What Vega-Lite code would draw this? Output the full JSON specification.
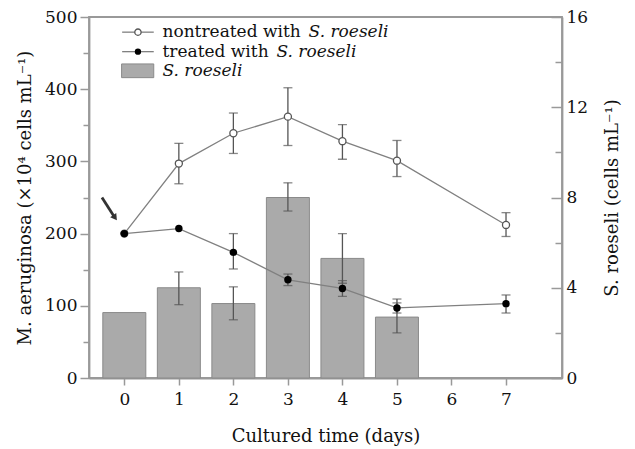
{
  "$schema": "https://vega.github.io/schema/vega-lite/v6.json",
  "width": 473,
  "height": 361,
  "autosize": "none",
  "padding": {"left": 89, "top": 17, "right": 73, "bottom": 71},
  "config": {
    "view": {"stroke": "#999", "strokeWidth": 1.8},
    "axis": {
      "grid": false,
      "domainColor": "#999",
      "domainWidth": 1.8,
      "tickColor": "#999",
      "tickWidth": 1.5,
      "labelFont": "DejaVu Serif",
      "labelFontSize": 17,
      "labelColor": "#111",
      "titleFont": "DejaVu Serif",
      "titleFontSize": 18,
      "titleFontWeight": "normal",
      "titleColor": "#111"
    }
  },
  "datasets": {
    "days": [
      {"day": 0, "non": 200, "non_lo": null, "non_hi": null, "tr": 200, "tr_lo": null, "tr_hi": null, "sr": 2.9, "sr_lo": null, "sr_hi": null},
      {"day": 1, "non": 297, "non_lo": 269, "non_hi": 325, "tr": 207, "tr_lo": null, "tr_hi": null, "sr": 4.0, "sr_lo": 3.25, "sr_hi": 4.7},
      {"day": 2, "non": 339, "non_lo": 311, "non_hi": 367, "tr": 174, "tr_lo": 151, "tr_hi": 200, "sr": 3.3, "sr_lo": 2.58, "sr_hi": 4.04},
      {"day": 3, "non": 362, "non_lo": 322, "non_hi": 402, "tr": 136, "tr_lo": 128, "tr_hi": 144, "sr": 8.0, "sr_lo": 7.4, "sr_hi": 8.65},
      {"day": 4, "non": 328, "non_lo": 303, "non_hi": 351, "tr": 124, "tr_lo": 113, "tr_hi": 135, "sr": 5.3, "sr_lo": 4.2, "sr_hi": 6.4},
      {"day": 5, "non": 301, "non_lo": 279, "non_hi": 329, "tr": 97, "tr_lo": 90, "tr_hi": 104, "sr": 2.7, "sr_lo": 2.0, "sr_hi": 3.5},
      {"day": 7, "non": 212, "non_lo": 196, "non_hi": 229, "tr": 103, "tr_lo": 90, "tr_hi": 115, "sr": null, "sr_lo": null, "sr_hi": null}
    ]
  },
  "data": {"name": "days"},
  "encoding": {
    "x": {
      "field": "day", "type": "quantitative",
      "scale": {"domain": [-0.556, 7.935], "nice": false, "zero": false},
      "axis": {"values": [0, 1, 2, 3, 4, 5, 6, 7], "format": "d", "title": "Cultured time (days)", "tickSize": 7, "labelPadding": 6, "titlePadding": 20, "labelFlush": false}
    }
  },
  "layer": [
    {
      "encoding": {
        "y": {
          "field": "sr", "type": "quantitative",
          "scale": {"domain": [0, 16], "nice": false},
          "axis": {"orient": "right", "title": "S. roeseli (cells mL⁻¹)", "values": [0, 2, 4, 6, 8, 10, 12, 14, 16],
            "labelExpr": "datum.value % 4 === 0 ? datum.label : ''",
            "tickSize": {"condition": {"test": "datum.value % 4 === 0", "value": -11}, "value": -7},
            "titleAngle": 270, "titleBaseline": "top", "titlePadding": 16, "labelPadding": 15}
        }
      },
      "layer": [
        {"transform": [{"filter": "datum.sr != null"}], "mark": {"type": "bar", "width": 43, "fill": "#aaaaaa", "stroke": "#8a8a8a", "strokeWidth": 1}},
        {"transform": [{"filter": "datum.sr_lo != null"}], "mark": {"type": "rule", "color": "#555", "strokeWidth": 1.3}, "encoding": {"y": {"field": "sr_lo", "type": "quantitative"}, "y2": {"field": "sr_hi"}}},
        {"transform": [{"filter": "datum.sr_lo != null"}], "mark": {"type": "tick", "orient": "horizontal", "size": 9, "thickness": 1.3, "color": "#555"}, "encoding": {"y": {"field": "sr_lo", "type": "quantitative"}}},
        {"transform": [{"filter": "datum.sr_lo != null"}], "mark": {"type": "tick", "orient": "horizontal", "size": 9, "thickness": 1.3, "color": "#555"}, "encoding": {"y": {"field": "sr_hi", "type": "quantitative"}}}
      ]
    },
    {
      "encoding": {
        "y": {
          "field": "non", "type": "quantitative",
          "scale": {"domain": [0, 500], "nice": false},
          "axis": {"orient": "left", "title": "M. aeruginosa (×10⁴ cells mL⁻¹)", "values": [0, 50, 100, 150, 200, 250, 300, 350, 400, 450, 500],
            "labelExpr": "datum.value % 100 === 0 ? datum.label : ''",
            "tickSize": {"condition": {"test": "datum.value % 100 === 0", "value": 9}, "value": 6},
            "titlePadding": 10, "labelPadding": 3}
        }
      },
      "layer": [
        {"mark": {"type": "line", "color": "#808080", "strokeWidth": 1.3}},
        {"transform": [{"filter": "datum.non_lo != null"}], "mark": {"type": "rule", "color": "#555", "strokeWidth": 1.3}, "encoding": {"y": {"field": "non_lo", "type": "quantitative"}, "y2": {"field": "non_hi"}}},
        {"transform": [{"filter": "datum.non_lo != null"}], "mark": {"type": "tick", "orient": "horizontal", "size": 9, "thickness": 1.3, "color": "#555"}, "encoding": {"y": {"field": "non_lo", "type": "quantitative"}}},
        {"transform": [{"filter": "datum.non_lo != null"}], "mark": {"type": "tick", "orient": "horizontal", "size": 9, "thickness": 1.3, "color": "#555"}, "encoding": {"y": {"field": "non_hi", "type": "quantitative"}}},
        {"mark": {"type": "point", "shape": "circle", "size": 50, "filled": true, "fill": "white", "stroke": "#555", "strokeWidth": 1.3, "opacity": 1}},
        {"mark": {"type": "line", "color": "#808080", "strokeWidth": 1.3}, "encoding": {"y": {"field": "tr", "type": "quantitative"}}},
        {"transform": [{"filter": "datum.tr_lo != null"}], "mark": {"type": "rule", "color": "#555", "strokeWidth": 1.3}, "encoding": {"y": {"field": "tr_lo", "type": "quantitative"}, "y2": {"field": "tr_hi"}}},
        {"transform": [{"filter": "datum.tr_lo != null"}], "mark": {"type": "tick", "orient": "horizontal", "size": 9, "thickness": 1.3, "color": "#555"}, "encoding": {"y": {"field": "tr_lo", "type": "quantitative"}}},
        {"transform": [{"filter": "datum.tr_lo != null"}], "mark": {"type": "tick", "orient": "horizontal", "size": 9, "thickness": 1.3, "color": "#555"}, "encoding": {"y": {"field": "tr_hi", "type": "quantitative"}}},
        {"mark": {"type": "point", "shape": "circle", "size": 55, "filled": true, "fill": "black", "opacity": 1}, "encoding": {"y": {"field": "tr", "type": "quantitative"}}},
        {"transform": [{"filter": "datum.day === 0"}], "mark": {"type": "rule", "color": "#333", "strokeWidth": 2.8}, "encoding": {"x": {"datum": -0.41, "type": "quantitative"}, "y": {"datum": 250, "type": "quantitative"}, "x2": {"datum": -0.19}, "y2": {"datum": 224}}},
        {"transform": [{"filter": "datum.day === 0"}], "mark": {"type": "point", "shape": "triangle-up", "size": 55, "filled": true, "color": "#333", "opacity": 1, "angle": 145}, "encoding": {"x": {"datum": -0.17, "type": "quantitative"}, "y": {"datum": 222, "type": "quantitative"}}},
        {"transform": [{"filter": "datum.day === 0"}], "mark": {"type": "rule", "color": "#808080", "strokeWidth": 1.3}, "encoding": {"x": {"datum": -0.04, "type": "quantitative"}, "x2": {"datum": 0.54}, "y": {"datum": 479, "type": "quantitative"}}},
        {"transform": [{"filter": "datum.day === 0"}], "mark": {"type": "point", "shape": "circle", "size": 40, "filled": true, "fill": "white", "stroke": "#555", "strokeWidth": 1.3, "opacity": 1}, "encoding": {"x": {"datum": 0.25, "type": "quantitative"}, "y": {"datum": 479, "type": "quantitative"}}},
        {"transform": [{"filter": "datum.day === 0"}], "mark": {"type": "rule", "color": "#808080", "strokeWidth": 1.3}, "encoding": {"x": {"datum": -0.04, "type": "quantitative"}, "x2": {"datum": 0.54}, "y": {"datum": 452, "type": "quantitative"}}},
        {"transform": [{"filter": "datum.day === 0"}], "mark": {"type": "point", "shape": "circle", "size": 40, "filled": true, "fill": "black", "opacity": 1}, "encoding": {"x": {"datum": 0.25, "type": "quantitative"}, "y": {"datum": 452, "type": "quantitative"}}},
        {"transform": [{"filter": "datum.day === 0"}], "mark": {"type": "rect", "fill": "#aaaaaa", "stroke": "#8a8a8a", "strokeWidth": 1}, "encoding": {"x": {"datum": -0.05, "type": "quantitative"}, "x2": {"datum": 0.54}, "y": {"datum": 416, "type": "quantitative"}, "y2": {"datum": 435}}},
        {"transform": [{"filter": "datum.day === 0"}], "mark": {"type": "text", "align": "left", "baseline": "middle", "font": "DejaVu Serif", "fontSize": 17, "color": "#111"}, "encoding": {"text": {"value": "nontreated with"}, "x": {"datum": 0.7, "type": "quantitative"}, "y": {"datum": 479, "type": "quantitative"}}},
        {"transform": [{"filter": "datum.day === 0"}], "mark": {"type": "text", "align": "left", "baseline": "middle", "font": "DejaVu Serif", "fontSize": 17, "fontStyle": "italic", "color": "#111"}, "encoding": {"text": {"value": "S. roeseli"}, "x": {"datum": 3.38, "type": "quantitative"}, "y": {"datum": 479, "type": "quantitative"}}},
        {"transform": [{"filter": "datum.day === 0"}], "mark": {"type": "text", "align": "left", "baseline": "middle", "font": "DejaVu Serif", "fontSize": 17, "color": "#111"}, "encoding": {"text": {"value": "treated with"}, "x": {"datum": 0.7, "type": "quantitative"}, "y": {"datum": 452, "type": "quantitative"}}},
        {"transform": [{"filter": "datum.day === 0"}], "mark": {"type": "text", "align": "left", "baseline": "middle", "font": "DejaVu Serif", "fontSize": 17, "fontStyle": "italic", "color": "#111"}, "encoding": {"text": {"value": "S. roeseli"}, "x": {"datum": 2.79, "type": "quantitative"}, "y": {"datum": 452, "type": "quantitative"}}},
        {"transform": [{"filter": "datum.day === 0"}], "mark": {"type": "text", "align": "left", "baseline": "middle", "font": "DejaVu Serif", "fontSize": 17, "fontStyle": "italic", "color": "#111"}, "encoding": {"text": {"value": "S. roeseli"}, "x": {"datum": 0.7, "type": "quantitative"}, "y": {"datum": 425, "type": "quantitative"}}}
      ]
    }
  ],
  "resolve": {"scale": {"y": "independent"}}
}
